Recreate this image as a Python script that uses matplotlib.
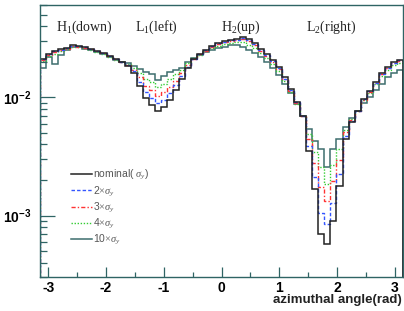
import numpy as np
import matplotlib
matplotlib.use("Agg")
import matplotlib.pyplot as plt
from matplotlib.lines import Line2D
from matplotlib.ticker import FixedLocator, LogLocator, NullFormatter, FuncFormatter

plt.rcParams['mathtext.fontset'] = 'custom'
plt.rcParams['mathtext.rm'] = 'Liberation Serif'
plt.rcParams['mathtext.it'] = 'Liberation Serif:italic'
plt.rcParams['mathtext.bf'] = 'Liberation Sans:bold'

n_bins = 60
x_min, x_max = -np.pi, np.pi

nominal = [0.02095, 0.02310, 0.02450, 0.02548, 0.02599, 0.02757, 0.02703, 0.02650, 0.02548, 0.02450,
           0.02356, 0.02222, 0.02095, 0.01975, 0.01826, 0.01592, 0.01258, 0.00994, 0.00867, 0.00770,
           0.00833, 0.00956, 0.01163, 0.01443, 0.01756, 0.02095, 0.02310, 0.02499, 0.02703, 0.02867,
           0.02982, 0.03041, 0.03101, 0.03225, 0.03101, 0.02867, 0.02548, 0.02310, 0.02054, 0.01791,
           0.01472, 0.01186, 0.00919, 0.00698, 0.00352, 0.00167, 0.000704, 0.000579, 0.000891, 0.00177,
           0.00445, 0.00621, 0.00770, 0.00975, 0.01140, 0.01360, 0.01592, 0.01791, 0.01975, 0.02054]

x2 = [0.02095, 0.02310, 0.02450, 0.02499, 0.02599, 0.02703, 0.02703, 0.02650, 0.02548, 0.02450,
      0.02356, 0.02222, 0.02095, 0.01975, 0.01862, 0.01655, 0.01360, 0.01118, 0.00994, 0.00901,
      0.00956, 0.01096, 0.01283, 0.01501, 0.01791, 0.02095, 0.02310, 0.02499, 0.02703, 0.02867,
      0.02924, 0.03041, 0.03041, 0.03162, 0.03041, 0.02811, 0.02499, 0.02266, 0.02014, 0.01756,
      0.01443, 0.01163, 0.00919, 0.00698, 0.00388, 0.00211, 0.00106, 0.000840, 0.00127, 0.00224,
      0.00472, 0.00633, 0.00770, 0.00975, 0.01140, 0.01334, 0.01561, 0.01756, 0.01937, 0.02054]

x3 = [0.02054, 0.02266, 0.02403, 0.02499, 0.02548, 0.02703, 0.02650, 0.02599, 0.02548, 0.02450,
      0.02356, 0.02222, 0.02095, 0.01975, 0.01862, 0.01688, 0.01472, 0.01258, 0.01163, 0.01034,
      0.01118, 0.01233, 0.01387, 0.01592, 0.01862, 0.02095, 0.02310, 0.02450, 0.02650, 0.02811,
      0.02924, 0.02982, 0.03041, 0.03101, 0.02982, 0.02757, 0.02450, 0.02222, 0.01975, 0.01722,
      0.01443, 0.01140, 0.00901, 0.00698, 0.00445, 0.00278, 0.00173, 0.00132, 0.00195, 0.00295,
      0.00510, 0.00646, 0.00770, 0.00956, 0.01118, 0.01334, 0.01561, 0.01756, 0.01937, 0.02014]

x4 = [0.02014, 0.02222, 0.02310, 0.02450, 0.02548, 0.02650, 0.02650, 0.02599, 0.02499, 0.02403,
      0.02310, 0.02179, 0.02054, 0.01975, 0.01899, 0.01756, 0.01592, 0.01443, 0.01360, 0.01233,
      0.01308, 0.01443, 0.01561, 0.01688, 0.01937, 0.02136, 0.02266, 0.02450, 0.02599, 0.02703,
      0.02811, 0.02867, 0.02924, 0.02924, 0.02757, 0.02599, 0.02356, 0.02136, 0.01899, 0.01655,
      0.01387, 0.01118, 0.00884, 0.00698, 0.00491, 0.00345, 0.00257, 0.00184, 0.00267, 0.00366,
      0.00531, 0.00659, 0.00770, 0.00956, 0.01096, 0.01308, 0.01501, 0.01688, 0.01862, 0.01937]

x10 = [0.01756, 0.02179, 0.01899, 0.02266, 0.02499, 0.02650, 0.02650, 0.02548, 0.02499, 0.02403,
       0.02310, 0.02179, 0.02054, 0.01975, 0.01937, 0.01826, 0.01722, 0.01623, 0.01561, 0.01415,
       0.01501, 0.01623, 0.01688, 0.01756, 0.01975, 0.02136, 0.02266, 0.02403, 0.02499, 0.02599,
       0.02650, 0.02757, 0.02757, 0.02650, 0.02499, 0.02356, 0.02179, 0.01975, 0.01756, 0.01531,
       0.01308, 0.01096, 0.00884, 0.00698, 0.00541, 0.00428, 0.00366, 0.00257, 0.00366, 0.00445,
       0.00563, 0.00672, 0.00770, 0.00901, 0.01014, 0.01163, 0.01308, 0.01472, 0.01592, 0.01688]

region_labels = [r'H$_{\rm 1}$(down)', r'L$_{\rm 1}$(left)', r'H$_{\rm 2}$(up)', r'L$_{\rm 2}$(right)']
region_x = [-2.38, -1.12, 0.33, 1.90]

legend_labels = [r'nominal( $\sigma_y$)', r'2$\times\sigma_y$', r'3$\times\sigma_y$',
                 r'4$\times\sigma_y$', r'10$\times\sigma_y$']

edges = np.linspace(x_min, x_max, n_bins + 1)

fig = plt.figure(figsize=(4.04, 3.11), dpi=100)
ax = fig.add_axes([40 / 404, 33.7 / 311, 363 / 404, 272.6 / 311])

frame_col = '#2f6464'
styles = [
    (x10, dict(color='#3d6e6e', lw=1.1, ls='-')),
    (x4, dict(color='#33cc33', lw=1.0, ls=(0, (1, 1.2)))),
    (x3, dict(color='#ff3333', lw=1.0, ls=(0, (3, 1.5, 1, 1.5)))),
    (x2, dict(color='#3355ff', lw=1.0, ls=(0, (2.5, 1.5)))),
    (nominal, dict(color='#222222', lw=1.1, ls='-')),
]
for vals, st in styles:
    ax.stairs(vals, edges, **st)

ax.set_yscale('log')
ax.set_xlim(x_min, x_max)
ax.set_ylim(3e-4, 0.0608)

ax.xaxis.set_major_locator(FixedLocator([-3, -2, -1, 0, 1, 2, 3]))
ax.xaxis.set_minor_locator(FixedLocator([-2.5, -1.5, -0.5, 0.5, 1.5, 2.5]))
ax.xaxis.set_major_formatter(FuncFormatter(lambda v, p: '%d' % round(v)))
ax.yaxis.set_major_locator(LogLocator(base=10, numticks=10))
ax.yaxis.set_minor_locator(LogLocator(base=10, subs=np.arange(2, 10), numticks=20))
ax.yaxis.set_major_formatter(FuncFormatter(lambda v, p: r'$\mathbf{10^{%d}}$' % round(np.log10(v))))
ax.yaxis.set_minor_formatter(NullFormatter())

ax.tick_params(axis='both', which='both', direction='in', colors=frame_col,
               top=False, right=False, labelcolor='black')
ax.tick_params(axis='x', which='major', length=7, width=0.9, pad=3)
ax.tick_params(axis='x', which='minor', length=3.5, width=0.9)
ax.tick_params(axis='y', which='major', length=11, width=0.9, pad=6)
ax.tick_params(axis='y', which='minor', length=5, width=0.9)
for lab in ax.get_xticklabels() + ax.get_yticklabels():
    lab.set_fontweight('bold')
    lab.set_fontfamily('Liberation Sans')
    lab.set_fontsize(10)

for s in ax.spines.values():
    s.set_color(frame_col)
    s.set_linewidth(1.0)

for txt, xv in zip(region_labels, region_x):
    ax.text(xv, 0.95, txt, transform=ax.get_xaxis_transform(), ha='center', va='top',
            fontsize=10, family='Liberation Serif', color='#222222')

handles = [Line2D([], [], **styles[4][1]), Line2D([], [], **styles[3][1]),
           Line2D([], [], **styles[2][1]), Line2D([], [], **styles[1][1]),
           Line2D([], [], **styles[0][1])]
leg = ax.legend(handles, legend_labels, loc='upper left', bbox_to_anchor=(0.085, 0.40),
                frameon=False, fontsize=7.5, handlelength=2.0, handletextpad=0.1,
                labelspacing=0.2, borderaxespad=0, borderpad=0)
for t in leg.get_texts():
    t.set_color('#555555')
    t.set_fontfamily('Liberation Sans')

fig.text(402 / 404, 1 - 300 / 311, 'azimuthal angle(rad)', ha='right', va='center',
         fontsize=9.5, fontweight='bold', family='Liberation Sans', color='#222222')

fig.savefig('out.png', dpi=100)
